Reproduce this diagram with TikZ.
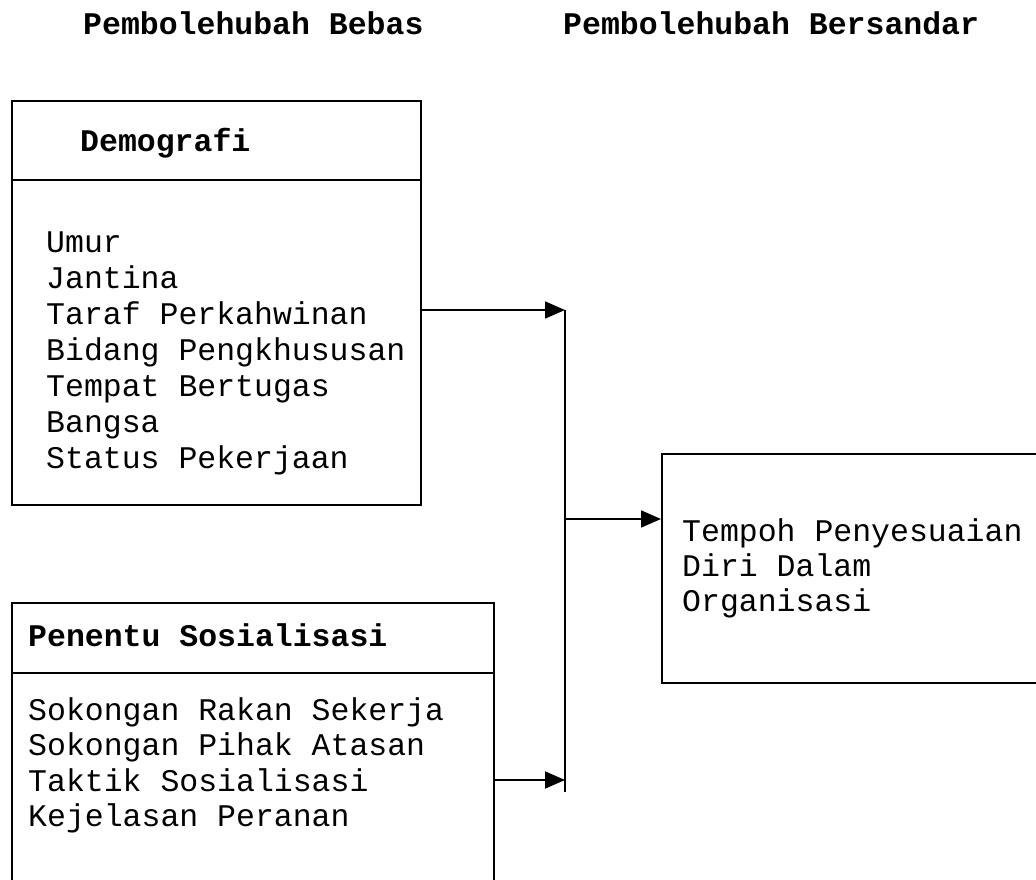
\documentclass[tikz,border=0pt]{standalone}
\usepackage{fontspec}
\setmonofont{Liberation Mono}
\usetikzlibrary{arrows.meta}
\newcommand{\txtfont}{\ttfamily\fontsize{31.5}{35.5}\selectfont}
\begin{document}
\begin{tikzpicture}[x=1pt,y=-1pt,
  boxline/.style={draw, line width=1.8pt},
  lbl/.style={anchor=base west, inner sep=0pt, font=\txtfont},
  ttl/.style={anchor=base west, inner sep=0pt, font=\txtfont\bfseries},
  arr/.style={line width=1.8pt, -{Triangle[length=20pt,width=17pt]}},
  conn/.style={line width=1.8pt}]
\useasboundingbox (0,0) rectangle (1036,880);
% titles
\node[ttl] (t1) at (83,35) {Pembolehubah Bebas};
\node[ttl] (t2) at (563,35) {Pembolehubah Bersandar};
% Demografi box
\node[boxline, anchor=north west, minimum width=409pt, minimum height=404pt, inner sep=0pt] (demo) at (11,100) {};
\coordinate (dh) at (0,180);
\draw[conn] (demo.west |- dh) -- (demo.east |- dh);
\node[ttl] (demot) at (80,152) {Demografi};
\node[lbl] (d1) at (46,252) {Umur};
\node[lbl] (d2) at (46,288) {Jantina};
\node[lbl] (d3) at (46,324) {Taraf Perkahwinan};
\node[lbl] (d4) at (46,360) {Bidang Pengkhususan};
\node[lbl] (d5) at (46,396) {Tempat Bertugas};
\node[lbl] (d6) at (46,432) {Bangsa};
\node[lbl] (d7) at (46,468) {Status Pekerjaan};
% Penentu Sosialisasi box (extends beyond the bottom edge)
\node[boxline, anchor=north west, minimum width=482pt, minimum height=300pt, inner sep=0pt] (sos) at (11,602) {};
\coordinate (sh) at (0,673);
\draw[conn] (sos.west |- sh) -- (sos.east |- sh);
\node[ttl] (sost) at (28,646) {Penentu Sosialisasi};
\node[lbl] (s1) at (28,720) {Sokongan Rakan Sekerja};
\node[lbl] (s2) at (28,755.5) {Sokongan Pihak Atasan};
\node[lbl] (s3) at (28,791) {Taktik Sosialisasi};
\node[lbl] (s4) at (28,826.5) {Kejelasan Peranan};
% dependent variable box (extends beyond the right edge)
\node[boxline, anchor=north west, minimum width=400pt, minimum height=229pt, inner sep=0pt] (tempoh) at (661,453) {};
\node[lbl] (r1) at (682,541) {Tempoh Penyesuaian};
\node[lbl] (r2) at (682,576) {Diri Dalam};
\node[lbl] (r3) at (682,611) {Organisasi};
% connectors
\coordinate (jtop) at (565,310);
\coordinate (jmid) at (565,519);
\coordinate (jlow) at (565,780);
\coordinate (jend) at (565,792);
\draw[conn] (jtop) -- (jend);
\draw[arr] (demo.east |- jtop) -- (jtop);
\draw[arr] (sos.east |- jlow) -- (jlow);
\draw[arr] (jmid) -- (tempoh.west |- jmid);
\end{tikzpicture}
\end{document}
